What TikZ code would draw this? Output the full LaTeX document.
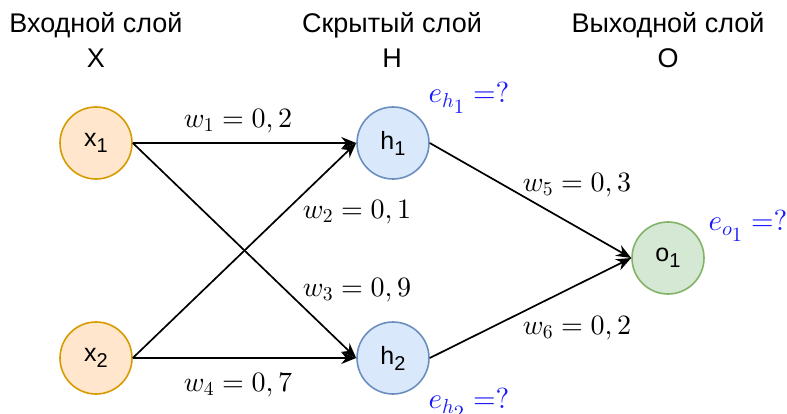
\documentclass[tikz,border=0pt]{standalone}
\usepackage{fontspec}
\newfontfamily\labelfont{Liberation Sans}
\usetikzlibrary{arrows.meta}
% scalable math fonts
\DeclareFontShape{OML}{cmm}{m}{it}{<->cmmi10}{}
\DeclareFontShape{OT1}{cmr}{m}{n}{<->cmr10}{}
\DeclareFontShape{OMS}{cmsy}{m}{n}{<->cmsy10}{}

\definecolor{inpfill}{HTML}{FFE6CC}
\definecolor{inpline}{HTML}{D79B00}
\definecolor{hidfill}{HTML}{DAE8FC}
\definecolor{hidline}{HTML}{6C8EBF}
\definecolor{outfill}{HTML}{D5E8D4}
\definecolor{outline}{HTML}{82B366}
\definecolor{errblue}{HTML}{1A1AFF}

\newcommand{\neursub}[2]{#1\raisebox{-6pt}{\fontsize{20}{20}\selectfont #2}}

\begin{document}
\begin{tikzpicture}[
    x=1pt, y=-1pt,
    neuron/.style={circle, line width=1.6pt, minimum size=72pt, inner sep=0pt, font=\labelfont\fontsize{25}{25}\selectfont},
    inp/.style={neuron, draw=inpline, fill=inpfill},
    hid/.style={neuron, draw=hidline, fill=hidfill},
    outp/.style={neuron, draw=outline, fill=outfill},
    header/.style={anchor=base, font=\labelfont\fontsize{27}{27}\selectfont},
    weight/.style={font=\fontsize{28}{28}\selectfont},
    err/.style={font=\fontsize{29}{29}\selectfont, text=errblue},
    arrow/.style={-{Stealth[length=15pt, width=12pt]}, line width=1.7pt}
]
\useasboundingbox[fill=white] (0,0) rectangle (787,414);

% layer titles
\node[header] (intitle) at (96,33) {Входной слой};
\node[header] (inletter) at (96,68) {X};
\node[header] (hidtitle) at (392,33) {Скрытый слой};
\node[header] (hidletter) at (392,68) {H};
\node[header] (outtitle) at (668,33) {Выходной слой};
\node[header] (outletter) at (668,68) {O};

% neurons
\node[inp] (x1) at (96,143) {\neursub{x}{1}};
\node[inp] (x2) at (96,358) {\neursub{x}{2}};
\node[hid] (h1) at (393,143) {\neursub{h}{1}};
\node[hid] (h2) at (393,358) {\neursub{h}{2}};
\node[outp] (o1) at (668,258) {\neursub{o}{1}};

% weights
\node[weight] (lw1) at (238,121) {$w_1=0,2$};
\node[weight] (lw2) at (357,212) {$w_2=0,1$};
\node[weight] (lw3) at (357,290) {$w_3=0,9$};
\node[weight] (lw4) at (238,385) {$w_4=0,7$};
\node[weight] (lw5) at (577,185) {$w_5=0,3$};
\node[weight] (lw6) at (577,328) {$w_6=0,2$};

% errors
\node[err] (eh1) at (469,98) {$e_{h_{\scriptstyle 1}}=?$};
\node[err] (eo1) at (748,226) {$e_{o_{\scriptstyle 1}}=?$};
\node[err] (eh2) at (469,404) {$e_{h_{\scriptstyle 2}}=?$};

% connections
\draw[arrow] (x1.east) -- (h1.west);
\draw[arrow] (x1.east) -- (h2.west);
\draw[arrow] (x2.east) -- (h1.west);
\draw[arrow] (x2.east) -- (h2.west);
\draw[arrow] (h1.east) -- (o1.west);
\draw[arrow] (h2.east) -- (o1.west);
\end{tikzpicture}
\end{document}
